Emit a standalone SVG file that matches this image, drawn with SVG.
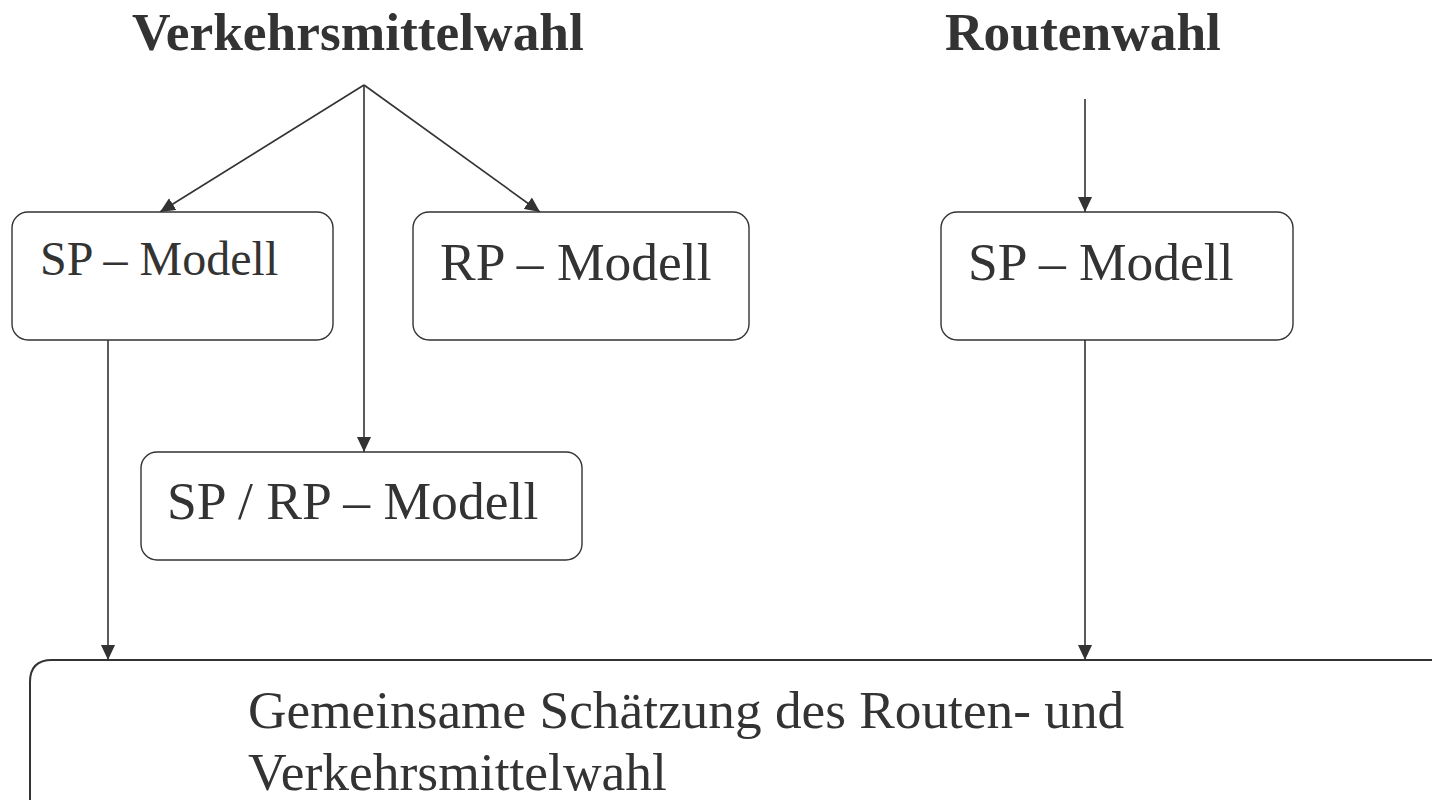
<svg xmlns="http://www.w3.org/2000/svg" width="1432" height="800" viewBox="0 0 1432 800">
<style>
.box{fill:#fff;stroke:#333;stroke-width:1.4}
.t{font-family:"Liberation Serif","Times New Roman",serif;fill:#333}
.h{font-family:"Liberation Serif","Times New Roman",serif;fill:#333;font-weight:bold;font-size:53.4px;text-anchor:middle}
.c{stroke:#333;stroke-width:1.6;fill:none;marker-end:url(#ah)}
</style>
<defs>
<marker id="ah" viewBox="0 0 15 14" refX="15" refY="7" markerWidth="15" markerHeight="14" markerUnits="userSpaceOnUse" orient="auto">
<path d="M0,0 L15,7 L0,14 Z" fill="#333"/>
</marker>
</defs>
<rect width="1432" height="800" fill="#fff"/>
<g id="title-vmw"><text class="h" x="358" y="50">Verkehrsmittelwahl</text></g>
<g id="title-rw"><text class="h" x="1083" y="50">Routenwahl</text></g>
<g id="connectors">
<line class="c" x1="364" y1="85" x2="160" y2="212"/>
<line class="c" x1="364" y1="85" x2="540" y2="212"/>
<line class="c" x1="364" y1="85" x2="364" y2="452"/>
<line class="c" x1="1085" y1="99" x2="1085" y2="212"/>
<line class="c" x1="108" y1="340" x2="108" y2="660"/>
<line class="c" x1="1085" y1="340" x2="1085" y2="660"/>
</g>
<g id="sp1"><rect class="box" x="12" y="212" width="321" height="128" rx="16"/><text class="t" x="40" y="275" font-size="48">SP – Modell</text></g>
<g id="rp"><rect class="box" x="413" y="212" width="336" height="128" rx="16"/><text class="t" x="440" y="280" font-size="53.5">RP – Modell</text></g>
<g id="sp2"><rect class="box" x="941" y="212" width="352" height="128" rx="16"/><text class="t" x="968" y="280" font-size="53.5">SP – Modell</text></g>
<g id="sprp"><rect class="box" x="141" y="452" width="441" height="108" rx="16"/><text class="t" x="167" y="519" font-size="53.6">SP / RP – Modell</text></g>
<g id="joint"><path d="M1440,660 L52,660 Q30,660 30,682 L30,810" fill="#fff" stroke="#333" stroke-width="2"/>
<text class="t" x="248" y="728" font-size="53.3">Gemeinsame Schätzung des Routen- und</text>
<text class="t" x="248" y="790" font-size="53.5">Verkehrsmittelwahl</text></g>
</svg>
